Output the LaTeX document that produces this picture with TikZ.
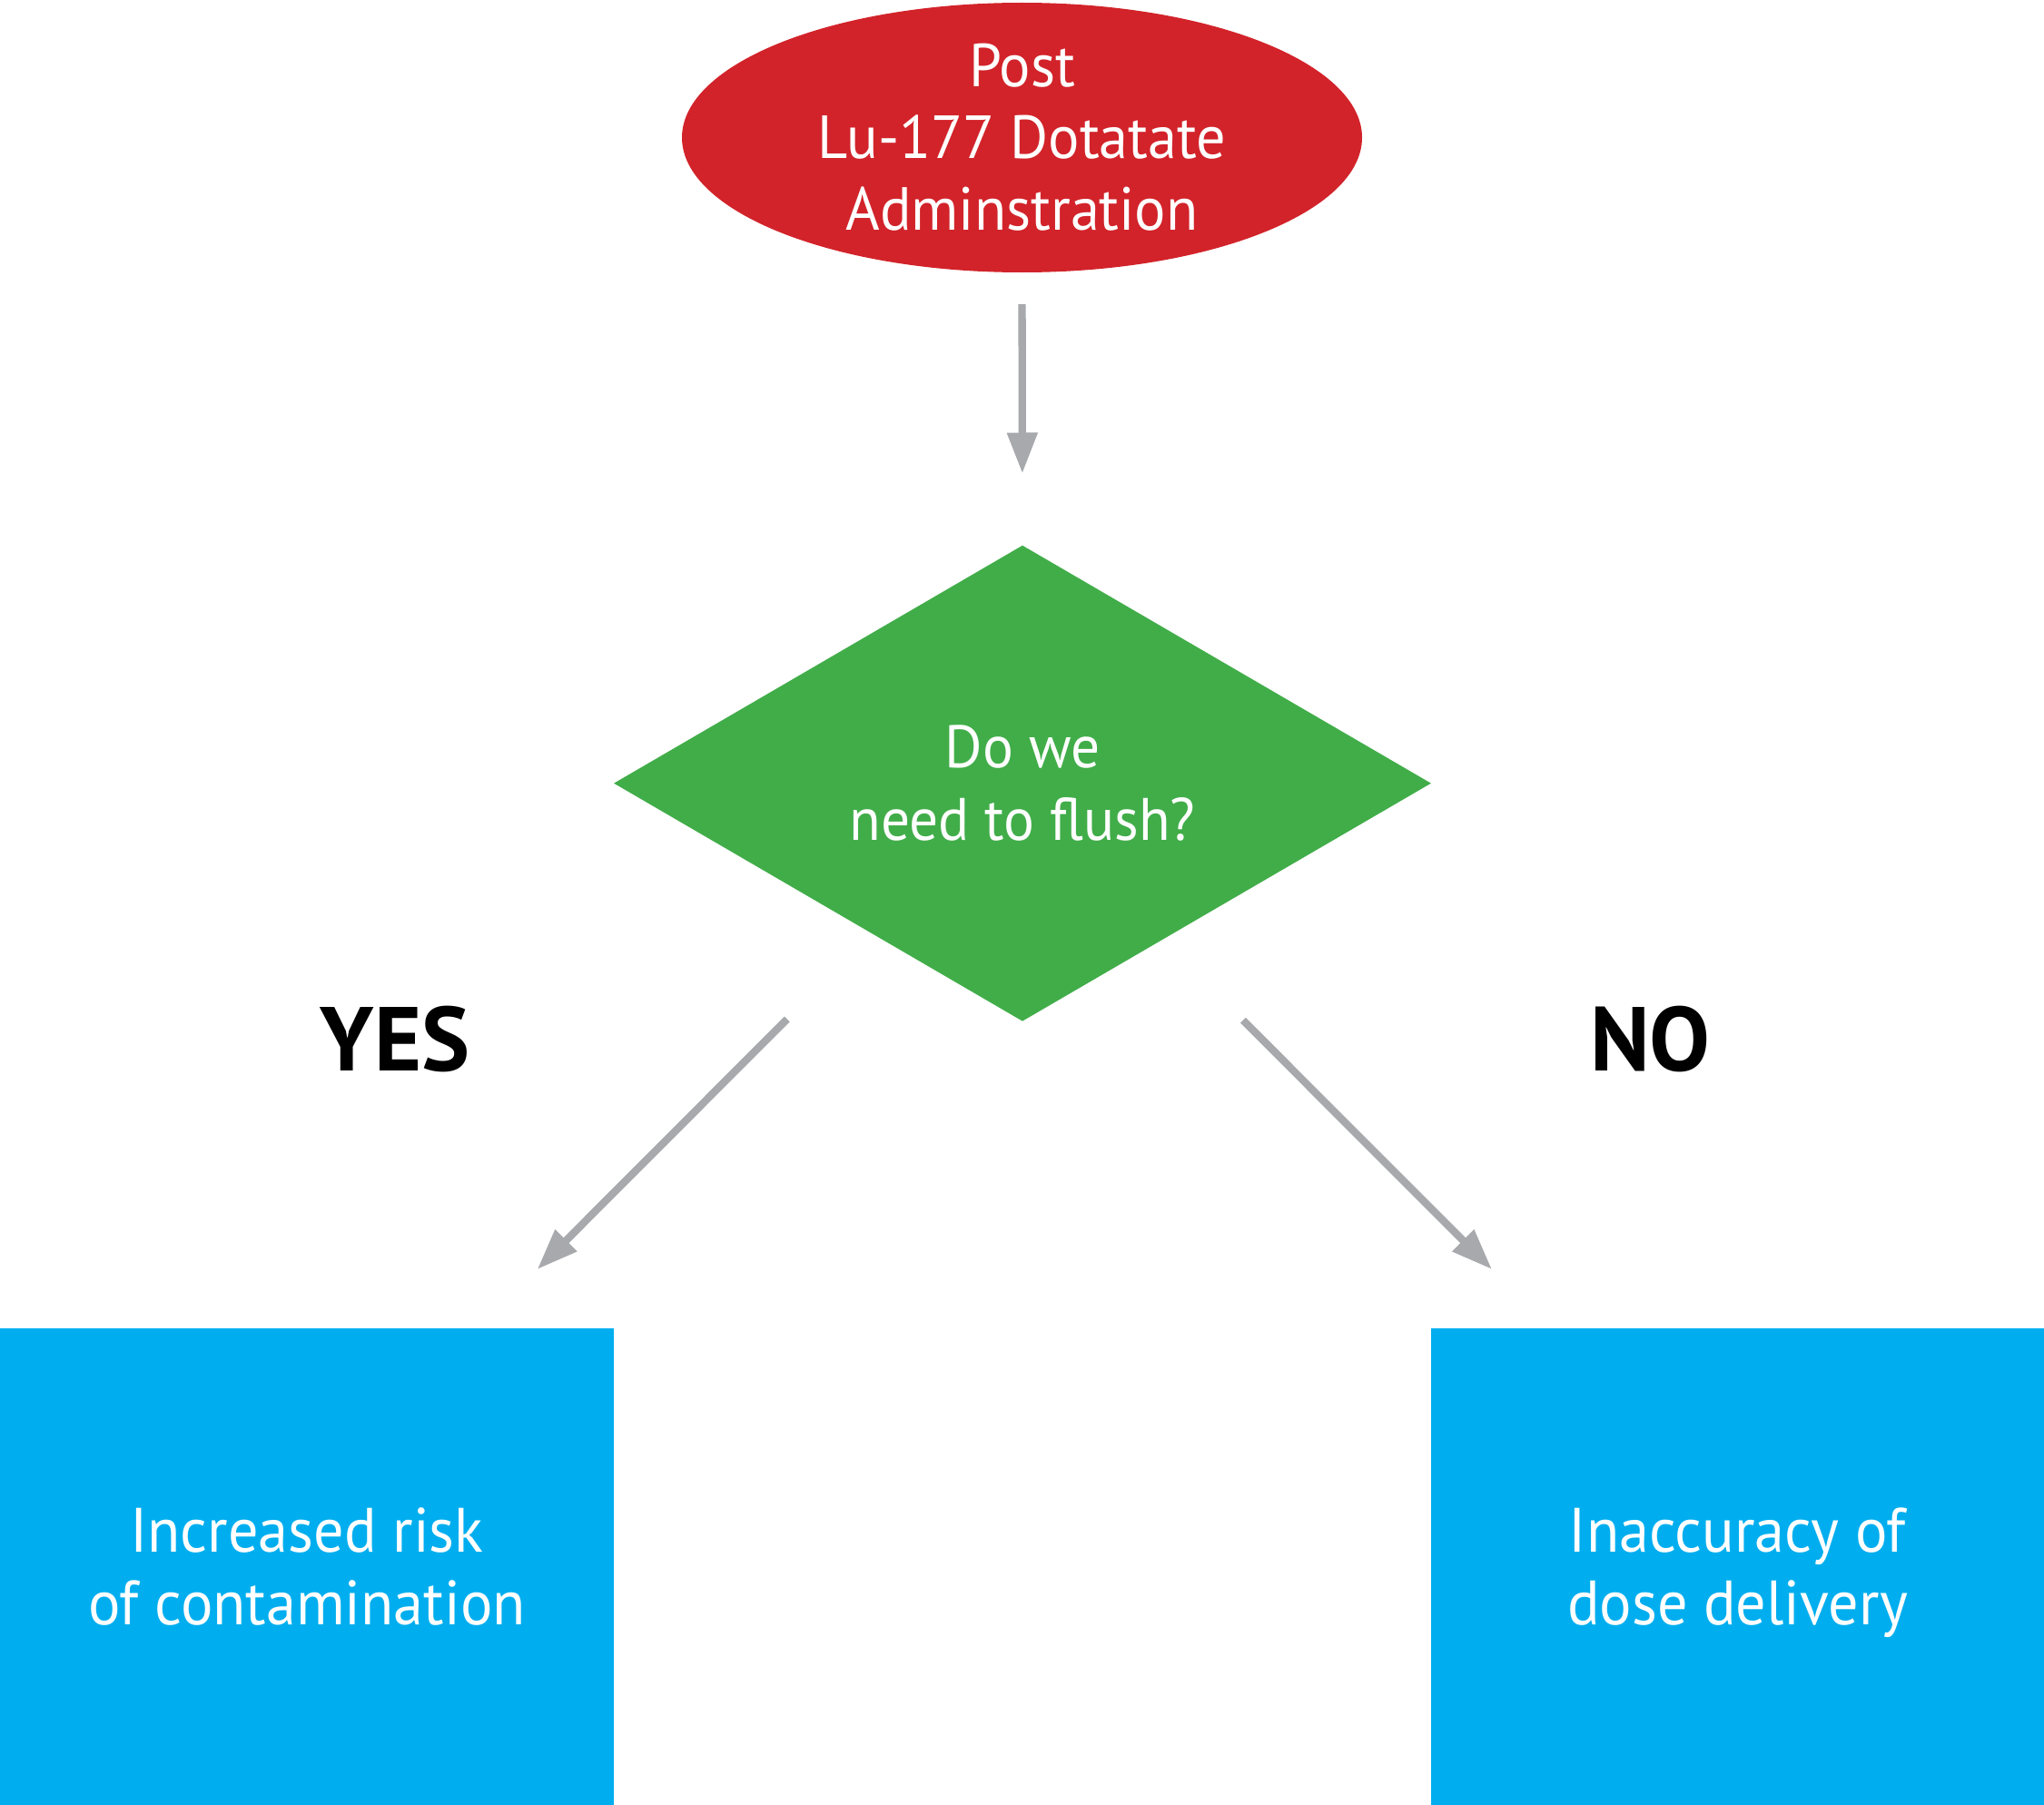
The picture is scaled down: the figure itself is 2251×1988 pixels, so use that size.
\documentclass[tikz,border=0pt]{standalone}
\usepackage{fontspec}
\setmainfont{PT Sans}[FakeStretch=0.96]
\newfontfamily\lblfont{PT Sans}
\usetikzlibrary{shapes.geometric,arrows.meta}
\definecolor{cred}{HTML}{D2232A}
\definecolor{cgreen}{HTML}{41AD49}
\definecolor{cblue}{HTML}{00AEEF}
\definecolor{cgray}{HTML}{A7A9AC}
\tikzset{
  arr/.style={draw=cgray, line width=8.3pt, -{Triangle[width=32pt,length=45pt]}},
  lbl/.style={text=black, font=\lblfont\bfseries\fontsize{100}{110}\selectfont, inner sep=0pt, anchor=base},
  boxnode/.style={rectangle, fill=cblue, draw=none, minimum width=676pt, minimum height=525pt, inner sep=0pt, text=white, align=center, font=\fontsize{69}{80}\selectfont}
}
\begin{document}
\begin{tikzpicture}[x=1pt,y=-1pt]
\useasboundingbox (0,0) rectangle (2251,1988);
\node[ellipse, fill=cred, minimum width=749pt, minimum height=297pt, inner sep=0pt, text=white, align=center, font=\fontsize{67}{79}\selectfont] (start) at (1125.5,151.5) {Post\\Lu-177 Dotatate\\Adminstration};
\node[diamond, fill=cgreen, aspect=1.718, minimum width=900pt, minimum height=524pt, inner sep=0pt, text=white, align=center, font=\fontsize{66}{80}\selectfont] (dec) at (1126,862.7) {Do we\\need to flush?};
\node[boxnode] (yesbox) at (338,1725.5) {Increased risk\\of contamination};
\node[boxnode] (nobox) at (1913.5,1725.5) {Inaccuracy of\\dose deliver\smash{y}};
\node[lbl] (yes) at (435,1179) {YES};
\node[lbl] (no) at (1817.5,1179) {NO};
\coordinate (yesTip) at (591.7,1398);
\coordinate (noTip) at (1643,1398);
\draw[arr, shorten <=35pt, shorten >=79pt] (start.south) -- (dec.north);
\draw[arr, shorten <=367pt] (dec.center) -- (yesTip);
\draw[arr, shorten <=369pt] ([xshift=-18pt]dec.center) -- (noTip);
\end{tikzpicture}
\end{document}
